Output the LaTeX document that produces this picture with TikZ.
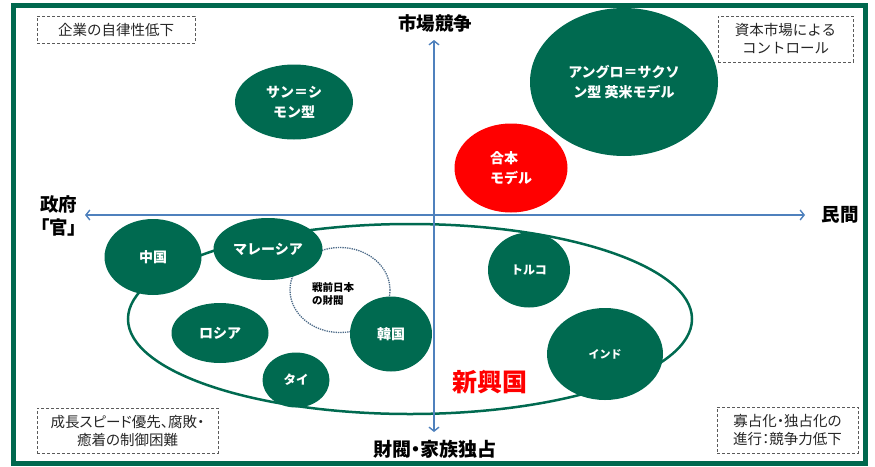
\documentclass[tikz,border=0pt]{standalone}
\usepackage{fontspec}
\setmainfont{Noto Sans CJK JP}
\newfontfamily\jpprop[RawFeature=+palt]{Noto Sans CJK JP}
\usetikzlibrary{shapes.geometric,arrows.meta}
\definecolor{frameg}{RGB}{0,104,78}
\definecolor{ellg}{RGB}{0,106,80}
\definecolor{axisb}{RGB}{79,129,189}
\definecolor{dotb}{RGB}{75,105,135}
\definecolor{notegray}{RGB}{90,90,90}
\tikzset{
  blob/.style={ellipse, fill=ellg, inner sep=0pt, text=white,
    font=\bfseries\fontsize{14}{20}\selectfont, align=center},
  note/.style={draw=notegray, densely dashed, line width=0.7pt, inner sep=0pt,
    font=\fontsize{14.5}{18}\selectfont, text=black!85, align=center},
  axlabel/.style={font=\bfseries\fontsize{18.5}{23}\selectfont, inner sep=0pt},
  axisline/.style={axisb, line width=1.4pt,
    {Straight Barb[length=4pt,width=10pt]}-{Straight Barb[length=4pt,width=10pt]}}
}
\begin{document}
\begin{tikzpicture}[x=1pt,y=-1pt]
\useasboundingbox (0,0) rectangle (875,466);
\draw[frameg, line width=5pt] (13.5,5.5) rectangle (865,463.5);

% emerging-country group
\node[ellipse, draw=ellg, line width=2.5pt, minimum width=564pt, minimum height=190pt, inner sep=0pt] (emerg) at (410,319) {};
% dotted circle
\node[ellipse, draw=dotb, densely dotted, line width=1.3pt, minimum width=100pt, minimum height=85pt, inner sep=0pt] (senzen) at (340,290) {};
\node[font=\bfseries\fontsize{10.5}{13.5}\selectfont, align=left, inner sep=0pt] (senzentxt) at (333,294) {戦前日本\\の財閥};

% blobs
\node[blob, minimum width=118pt, minimum height=75pt] (sansimon) at (294,102) {サン＝シ\\モン型};
\node[blob, minimum width=188pt, minimum height=148pt] (anglo) at (624,82) {アングロ＝サクソ\\ン型 英米モデル};
\node[blob, fill=red, align=left, minimum width=113pt, minimum height=89pt] (gohon) at (511,168) {合本\\モデル};
\node[blob, minimum width=97pt, minimum height=76pt] (china) at (153,257) {中国};
\node[blob, minimum width=109pt, minimum height=62pt] (malaysia) at (268,249) {マレーシア};
\node[blob, minimum width=97pt, minimum height=60pt] (russia) at (220,333) {ロシア};
\node[blob, font=\bfseries\fontsize{12.5}{15}\selectfont, minimum width=67pt, minimum height=55pt] (thai) at (296,380) {タイ};
\node[blob, minimum width=82pt, minimum height=75pt] (korea) at (391,334) {韓国};
\node[blob, font=\bfseries\fontsize{12}{15}\selectfont, minimum width=82pt, minimum height=75pt] (turkey) at (529,270) {トルコ};
\node[blob, font=\bfseries\fontsize{11}{14}\selectfont, minimum width=116pt, minimum height=92pt] (india) at (605,354) {インド};

\node[font=\bfseries\fontsize{25}{30}\selectfont, text=red, inner sep=0pt] (shinko) at (490,382) {新興国};

% notes
\node[note, minimum width=158pt, minimum height=27pt] (n1) at (116,29.5) {企業の自律性低下};
\node[note, minimum width=135pt, minimum height=46pt] (n2) at (785.5,39) {資本市場による\\コントロール};
\node[note, font=\jpprop\fontsize{14.5}{18}\selectfont, minimum width=181pt, minimum height=45pt] (n3) at (127.5,430.5) {成長スピード優先、腐敗・\\癒着の制御困難};
\node[note, font=\jpprop\fontsize{14.5}{18}\selectfont, minimum width=141pt, minimum height=46pt] (n4) at (787.5,430) {寡占化・独占化の\\進行：競争力低下};

% axes
\coordinate (atop) at (434,40);
\coordinate (abot) at (434,432);
\coordinate (aleft) at (85,215);
\coordinate (aright) at (805,215);
\draw[axisline] (abot) -- (atop);
\draw[axisline] (aleft) -- (aright);

\node[axlabel] (mk) at (435,23) {市場競争};
\node[axlabel] (mn) at (840,215) {民間};
\node[axlabel, align=left, anchor=west] (gv) at (40,216) {政府\\\addfontfeatures{RawFeature=+palt}「官」};
\node[axlabel, font=\jpprop\bfseries\fontsize{19}{22}\selectfont] (zb) at (435,449) {財閥・家族独占};
\end{tikzpicture}
\end{document}
